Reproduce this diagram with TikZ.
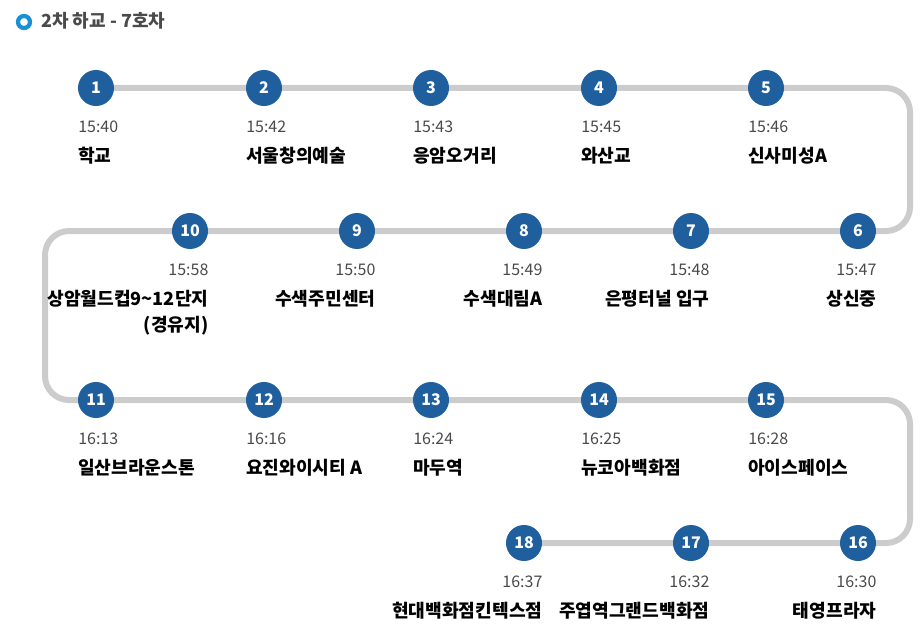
\documentclass[tikz,border=0pt]{standalone}
\usepackage{fontspec}
\setmainfont{Noto Sans CJK KR}
\definecolor{stopblue}{HTML}{1F5F9E}
\definecolor{routegray}{HTML}{CCCCCC}
\definecolor{timegray}{HTML}{4A4A4A}
\definecolor{ringblue}{HTML}{1A8FD6}
\tikzset{
  stop/.style={circle, fill=stopblue, minimum size=27pt, inner sep=0pt, text=white, font=\bfseries\fontsize{12}{14}\selectfont},
  time/.style={inner sep=0pt, text=timegray, font=\fontsize{12}{14}\selectfont},
  place/.style={inner sep=0pt, text=black, font=\bfseries\fontsize{13.6}{19.5}\selectfont},
}
\begin{document}
\begin{tikzpicture}[x=0.75pt,y=-0.75pt]
\useasboundingbox (0,0) rectangle (921,631);
% header
\draw[ringblue, line width=3.2pt] (24,22) circle (6);
\node[anchor=west, inner sep=0pt, font=\bfseries\fontsize{13.5}{16}\selectfont, text=timegray] (title) at (41,21) {2차 하교 - 7호차};
% route
\draw[routegray, line width=4.5pt, rounded corners=18pt]
  (96,88) -- (910,88) -- (910,231) -- (45,231) -- (45,400) -- (910,400) -- (910,543) -- (524,543);
% stops
\foreach \n/\x/\y in {1/96/88, 2/264/88, 3/431/88, 4/599/88, 5/766/88,
  10/190/231, 9/357/231, 8/524/231, 7/691/231, 6/858/231,
  11/96/400, 12/264/400, 13/431/400, 14/599/400, 15/766/400,
  18/524/543, 17/691/543, 16/858/543}
  \node[stop] (s\n) at (\x,\y) {\n};
% left aligned rows
\foreach \n/\t/\p in {1/15:40/학교, 2/15:42/서울창의예술, 3/15:43/응암오거리, 4/15:45/와산교, 5/15:46/신사미성A,
  11/16:13/일산브라운스톤, 12/16:16/요진와이시티 A, 13/16:24/마두역, 14/16:25/뉴코아백화점, 15/16:28/아이스페이스}
{
  \node[time, anchor=west] (t\n) at ([xshift=-13.5pt,yshift=-29pt]s\n.center) {\t};
  \node[place, anchor=west] (p\n) at ([xshift=-13.5pt,yshift=-51pt]s\n.center) {\p};
}
% right aligned rows
\foreach \n/\t/\p in {9/15:50/수색주민센터, 8/15:49/수색대림A, 7/15:48/은평터널 입구, 6/15:47/상신중,
  18/16:37/현대백화점킨텍스점, 17/16:32/주엽역그랜드백화점, 16/16:30/태영프라자}
{
  \node[time, anchor=east] (t\n) at ([xshift=14pt,yshift=-29pt]s\n.center) {\t};
  \node[place, anchor=east] (p\n) at ([xshift=14pt,yshift=-51pt]s\n.center) {\p};
}
\node[time, anchor=east] (t10) at ([xshift=14pt,yshift=-29pt]s10.center) {15:58};
\node[place, anchor=north east, align=right] (p10) at ([xshift=14pt,yshift=-44pt]s10.center) {상암월드컵9\textasciitilde12단지\\(경유지)};
\end{tikzpicture}
\end{document}
